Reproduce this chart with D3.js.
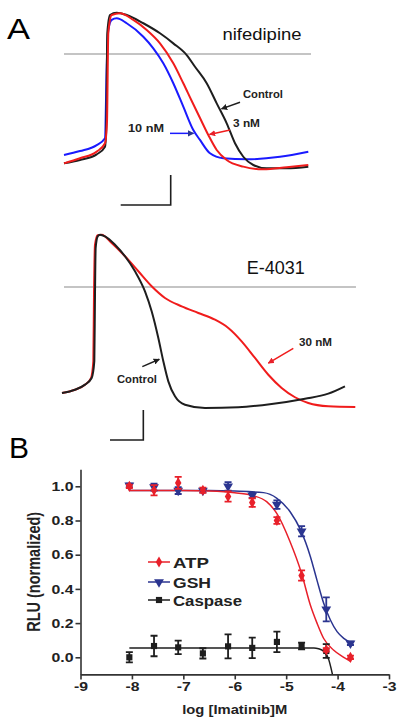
<!DOCTYPE html>
<html><head><meta charset="utf-8">
<script src="https://cdn.jsdelivr.net/npm/d3@7"></script>
<style>
body{margin:0;background:#fff}
svg{display:block}
text{font-family:"Liberation Sans",Arial,Helvetica,sans-serif}
</style>
</head><body>
<svg id="c" width="405" height="726"></svg>
<script>
// ===== DATA =====
// Panel A (top) nifedipine: [time ms, membrane potential mV]
const nifControl = [[0,-72.9],[32,-70.7],[65.4,-66.9],[82,-61.8],[84.4,-50.7],[86.6,14],[92,26],[105.4,27.5],[125.4,26],[158.6,20.5],[192,13.8],[218.6,7.1],[245.4,-0.7],[262,-8.5],[285.4,-19.5],[305.4,-32.9],[325.4,-46.2],[342,-59.5],[358.6,-68.5],[378.6,-74],[405.4,-76.2],[445.4,-76.2],[488.6,-75.1]];
const nif3nM = [[0,-72.9],[32,-69.5],[65.4,-65.1],[82,-59.5],[86,-45],[88.6,14],[95.4,26],[112,27.1],[138.6,22.7],[165.4,16],[192,7.1],[218.6,-6.2],[238.6,-19.5],[255,-31],[272,-42.7],[288.6,-54],[305.4,-64],[325.4,-70.7],[358.6,-75.1],[398.6,-76.9],[445.4,-75.5],[488.6,-74]];
const nif10nM = [[0,-67.3],[32,-64.7],[65.4,-60.7],[82,-56.2],[85.4,-8.5],[88.6,16],[95.4,22.7],[105.4,23.8],[125.4,20.5],[158.6,11.5],[178.6,3.8],[198.6,-6.2],[218.6,-19.5],[238.6,-35.1],[258.6,-50.7],[272,-57.3],[292,-66.2],[318.6,-69.5],[365.4,-70.2],[432,-68.5],[488.6,-65.1]];
// Panel A (middle) E-4031
const e4031Control = [[0,-70.7],[39,-68.5],[69,-65.1],[89,-60.7],[97,-49.5],[99,-5.1],[101,26],[107,33.8],[114,34.9],[129,33.8],[159,28.2],[189,20.5],[219,10.5],[249,-2.9],[269,-16.2],[289,-34],[304,-49.5],[319,-62.9],[339,-72.9],[369,-78.5],[429,-80.7],[529,-80.2],[629,-78],[729,-74.5],[799,-71.1],[849,-66.2]];
const e4031_30nM = [[0,-70.7],[39,-68.5],[69,-65.1],[87,-60.7],[94,-49.5],[96,-5.1],[99,28.2],[107,34.5],[119,34.9],[149,29.3],[189,20.5],[229,10.5],[269,0.5],[309,-7.3],[359,-12.9],[409,-17.3],[459,-21.8],[499,-27.3],[539,-36.2],[579,-47.3],[619,-58.5],[659,-67.3],[699,-73.5],[739,-77.3],[799,-79.5],[880,-80]];

// Panel B
const logConc = [-8.05,-7.57,-7.1,-6.62,-6.13,-5.66,-5.18,-4.7,-4.22,-3.75];
const atpMean = [1.0,0.977,1.02,0.977,0.94,0.905,0.80,0.478,0.043,0.0];
const atpErr  = [0.01,0.03,0.035,0.015,0.03,0.025,0.02,0.03,0.01,0.01];
const gshMean = [1.005,0.995,0.975,0.975,1.0,0.947,0.893,0.737,0.28,0.082];
const gshErr  = [0.01,0.02,0.02,0.01,0.025,0.015,0.025,0.03,0.07,0.01];
const caspConc = [-8.05,-7.57,-7.1,-6.62,-6.13,-5.66,-5.18,-4.7,-4.22];
const caspMean = [0.0,0.066,0.058,0.023,0.064,0.055,0.09,0.066,0.037];
const caspErr  = [0.03,0.06,0.04,0.03,0.07,0.06,0.06,0.02,0.04];
// fitted curves [log M, RLU]
const atpFit = [[-8.05,0.975],[-7,0.975],[-6.5,0.972],[-6,0.962],[-5.64,0.945],[-5.38,0.91],[-5.18,0.84],[-4.93,0.68],[-4.7,0.49],[-4.53,0.306],[-4.4,0.2],[-4.27,0.11],[-4.08,0.043],[-3.88,0.0],[-3.74,-0.025]];
const gshFit = [[-8.05,0.975],[-7,0.975],[-6.5,0.975],[-6,0.972],[-5.44,0.963],[-5.18,0.93],[-4.92,0.85],[-4.72,0.745],[-4.53,0.59],[-4.4,0.45],[-4.27,0.316],[-4.14,0.218],[-4.01,0.15],[-3.88,0.111],[-3.74,0.086]];
const caspFit = [[-8.05,0.055],[-6,0.055],[-4.46,0.055],[-4.37,0.05],[-4.27,0.035],[-4.17,-0.015],[-4.13,-0.06],[-4.1,-0.1]];
const xTicks = [-9,-8,-7,-6,-5,-4,-3];
const yTicks = [0,0.2,0.4,0.6,0.8,1.0];
const legendLabels = ["ATP","GSH","Caspase"];

// ===== DRAW =====
const RED="#e8202a", BLUE="#2b3590", BLK="#1e1e1e", GREY="#8a8a8a";
const svg = d3.select("#c");
const defs = svg.append("defs");
[["r",RED],["b",BLUE],["k",BLK]].forEach(([id,c])=>{
  defs.append("marker").attr("id","ah"+id).attr("viewBox","0 0 10 10").attr("refX",9).attr("refY",5)
   .attr("markerWidth",4.2).attr("markerHeight",4.2).attr("orient","auto").attr("markerUnits","strokeWidth")
   .append("path").attr("d","M0,0L10,5L0,10z").attr("fill",c);
});

// panel letters
svg.append("text").attr("x",7).attr("y",39).attr("font-size",30).text("A").attr("textLength",23).attr("lengthAdjust","spacingAndGlyphs");
svg.append("text").attr("x",9).attr("y",458).attr("font-size",30).text("B");

function tracePanel(xs, ys, series, refDomain, label, labelPos, labelW, barCorner, annots){
  const g = svg.append("g");
  g.append("line").attr("x1",xs(refDomain[0])).attr("x2",xs(refDomain[1])).attr("y1",ys(0)).attr("y2",ys(0))
    .attr("stroke",GREY).attr("stroke-width",1.2);
  const line = d3.line().x(d=>xs(d[0])).y(d=>ys(d[1])).curve(d3.curveMonotoneX);
  series.forEach(s=>{
    g.append("path").attr("d",line(s.data)).attr("fill","none").attr("stroke",s.color).attr("stroke-width",2);
  });
  g.append("text").attr("x",xs(labelPos[0])).attr("y",ys(labelPos[1])).attr("font-size",labelPos[2])
    .attr("textLength",labelW).attr("lengthAdjust","spacingAndGlyphs").text(label).attr("fill","#111");
  // scale bar: 100 ms, 20 mV
  const [bt,bv] = barCorner;
  g.append("path").attr("d",`M${xs(bt-100)},${ys(bv)}L${xs(bt)},${ys(bv)}L${xs(bt)},${ys(bv+20)}`)
    .attr("fill","none").attr("stroke",BLK).attr("stroke-width",1.6);
  annots.forEach(a=>{
    g.append("line").attr("x1",xs(a.from[0])).attr("y1",ys(a.from[1])).attr("x2",xs(a.to[0])).attr("y2",ys(a.to[1]))
      .attr("stroke",a.color).attr("stroke-width",1.5).attr("marker-end",`url(#ah${a.m})`);
    g.append("text").attr("x",xs(a.text[0])).attr("y",ys(a.text[1])).attr("dy","0.35em")
      .attr("font-size",a.fs).attr("font-weight","bold").attr("fill","#222")
      .attr("textLength",a.w).attr("lengthAdjust","spacingAndGlyphs").text(a.label);
  });
}

const xTop = d3.scaleLinear().domain([0,494]).range([64,311]);
const yTop = d3.scaleLinear().domain([0,-100]).range([54,204]);
tracePanel(xTop, yTop,
  [{data:nif10nM,color:"#1a1aff"},{data:nifControl,color:BLK},{data:nif3nM,color:"#f01c1c"}],
  [0,494], "nifedipine", [317,9.2,16.5], 79, [213.4,-100.7],
  [{from:[352,-32.2],to:[315,-36.6],color:BLK,m:"k",text:[358,-26.9],label:"Control",fs:11,w:40},
   {from:[332,-50.7],to:[291,-53.6],color:"#f01c1c",m:"r",text:[338,-45.8],label:"3 nM",fs:11,w:27},
   {from:[212,-52.9],to:[259,-52.9],color:"#1a1aff",m:"b",text:[128,-49.5],label:"10 nM",fs:11,w:36}]);

const xMid = d3.scaleLinear().domain([0,880]).range([62,355.3]);
const yMid = d3.scaleLinear().domain([0,-100]).range([287,437]);
tracePanel(xMid, yMid,
  [{data:e4031_30nM,color:"#f01c1c"},{data:e4031Control,color:BLK}],
  [6,882], "E-4031", [554,8.7,18.5], 58, [244,-102],
  [{from:[694,-40.9],to:[619,-50.8],color:"#f01c1c",m:"r",text:[711,-36.9],label:"30 nM",fs:11,w:33},
   {from:[241,-53.1],to:[292,-48.2],color:BLK,m:"k",text:[165,-61.5],label:"Control",fs:11,w:40}]);

// ----- Panel B -----
const xB = d3.scaleLinear().domain([-9,-3]).range([80.5,389]);
const yB = d3.scaleLinear().domain([-0.1,1.1]).range([674.4,469.2]);
const gB = svg.append("g");
const ax = gB.append("g").attr("transform",`translate(0,${yB(-0.1)})`)
  .call(d3.axisBottom(xB).tickValues(xTicks).tickFormat(d=>String(d)).tickSize(5).tickSizeOuter(0).tickPadding(2));
const ay = gB.append("g").attr("transform",`translate(${xB(-9)},0)`)
  .call(d3.axisLeft(yB).tickValues(yTicks).tickFormat(d3.format(".1f")).tickSize(5).tickSizeOuter(0).tickPadding(2));
[ax,ay].forEach(a=>{
  a.select(".domain").attr("stroke","#333").attr("stroke-width",1.6);
  a.selectAll(".tick line").attr("stroke","#333").attr("stroke-width",1.6);
  a.selectAll("text").attr("font-family","'Liberation Sans',Arial,sans-serif").attr("font-weight","bold")
   .attr("font-size",13).attr("fill","#222").attr("lengthAdjust","spacingAndGlyphs");
});
ax.selectAll("text").attr("textLength",14);
ay.selectAll("text").attr("textLength",22);

gB.append("text").attr("x",xB(-6)).attr("y",714).attr("text-anchor","middle").attr("font-size",13)
  .attr("font-weight","bold").attr("fill","#222").attr("textLength",105).attr("lengthAdjust","spacingAndGlyphs")
  .text("log [Imatinib]M");
gB.append("text").attr("transform",`translate(40,${yB(0.5)}) scale(1.25,1) rotate(-90)`).attr("text-anchor","middle")
  .attr("font-size",14.5).attr("font-weight","bold").attr("fill","#222").text("RLU (normalized)");

const fitLine = d3.line().x(d=>xB(d[0])).y(d=>yB(d[1])).curve(d3.curveMonotoneX);
const symDiamond = d3.symbol().type(d3.symbolDiamond).size(36);
const symTri = d3.symbol().type(d3.symbolTriangle).size(42);
const symSq = d3.symbol().type(d3.symbolSquare).size(38);

const seriesB = [
  {x:caspConc, y:caspMean, e:caspErr, fit:caspFit, color:BLK, sym:symSq, rot:0},
  {x:logConc, y:gshMean, e:gshErr, fit:gshFit, color:BLUE, sym:symTri, rot:180},
  {x:logConc, y:atpMean, e:atpErr, fit:atpFit, color:RED, sym:symDiamond, rot:0}
];
defs.append("clipPath").attr("id","plotclip").append("rect")
  .attr("x",xB(-9)).attr("y",yB(1.1)).attr("width",xB(-3)-xB(-9)).attr("height",yB(-0.1)-yB(1.1));
seriesB.forEach(s=>{
  gB.append("path").attr("d",fitLine(s.fit)).attr("fill","none").attr("stroke",s.color)
    .attr("stroke-width",1.5).attr("clip-path","url(#plotclip)");
});
seriesB.forEach(s=>{
  const g = gB.append("g");
  s.x.forEach((xv,i)=>{
    const cx = xB(xv), y0 = yB(s.y[i]-s.e[i]), y1 = yB(s.y[i]+s.e[i]);
    g.append("path").attr("d",`M${cx},${y0}V${y1}M${cx-3.5},${y0}H${cx+3.5}M${cx-3.5},${y1}H${cx+3.5}`)
      .attr("stroke",s.color).attr("stroke-width",1.8).attr("fill","none");
    g.append("path").attr("d",s.sym()).attr("transform",`translate(${cx},${yB(s.y[i])}) rotate(${s.rot})`)
      .attr("fill",s.color);
  });
});
// legend
const legY = [562,582,600], legColors=[RED,BLUE,BLK], legSyms=[symDiamond,symTri,symSq], legRot=[0,180,0], legW=[36,38,69];
legendLabels.forEach((lab,i)=>{
  const g = gB.append("g");
  g.append("line").attr("x1",148).attr("x2",170).attr("y1",legY[i]).attr("y2",legY[i]).attr("stroke",legColors[i]).attr("stroke-width",1.5);
  g.append("path").attr("d",legSyms[i]()).attr("transform",`translate(159,${legY[i]}) rotate(${legRot[i]})`).attr("fill",legColors[i]);
  g.append("text").attr("x",173).attr("y",legY[i]+5.5).attr("font-size",14).attr("font-weight","bold")
    .attr("fill","#222").attr("textLength",legW[i]).attr("lengthAdjust","spacingAndGlyphs").text(lab);
});
</script>
</body></html>
